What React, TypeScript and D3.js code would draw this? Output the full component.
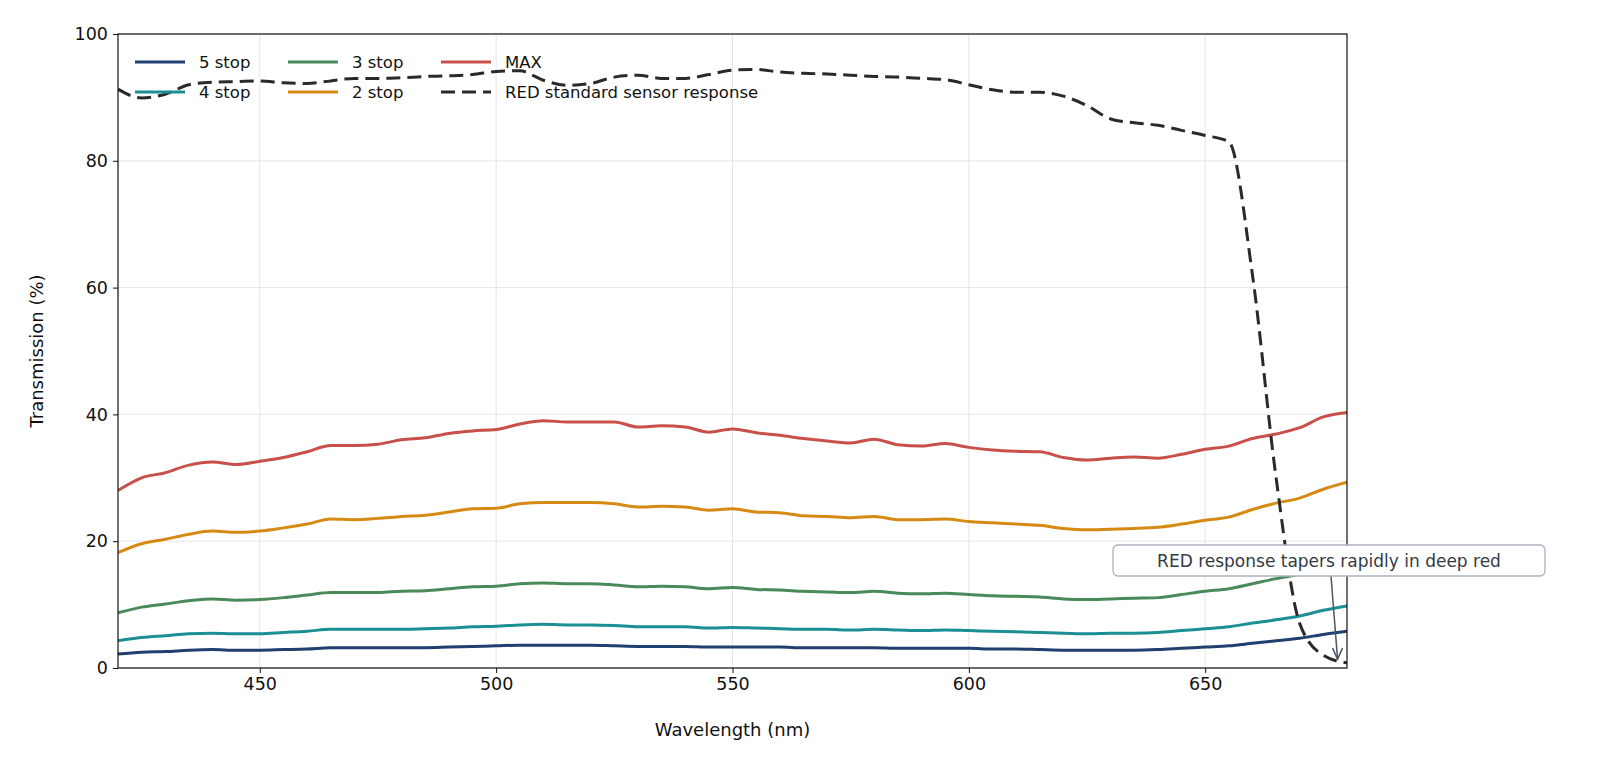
import * as d3 from "d3";
import { useEffect, useRef } from "react";

const wavelengths = d3.range(420, 681, 5);

const max = [28, 30, 30.8, 32, 32.5, 32.1, 32.6, 33.2, 34.1, 35.1, 35.1, 35.3, 36, 36.3, 37, 37.4, 37.6, 38.5, 39, 38.8, 38.8, 38.8, 38, 38.2, 38, 37.2, 37.7, 37.1, 36.7, 36.2, 35.8, 35.5, 36.1, 35.2, 35, 35.4, 34.8, 34.4, 34.2, 34.1, 33.2, 32.8, 33.1, 33.3, 33.1, 33.7, 34.5, 35, 36.2, 36.9, 37.9, 39.6, 40.3];
const stop2 = [18.2, 19.6, 20.3, 21.1, 21.6, 21.4, 21.6, 22.1, 22.7, 23.5, 23.4, 23.6, 23.9, 24.1, 24.6, 25.1, 25.2, 25.9, 26.1, 26.1, 26.1, 25.9, 25.4, 25.5, 25.4, 24.9, 25.1, 24.6, 24.5, 24, 23.9, 23.7, 23.9, 23.4, 23.4, 23.5, 23.1, 22.9, 22.7, 22.5, 22, 21.8, 21.9, 22, 22.2, 22.7, 23.3, 23.8, 25, 26, 26.8, 28.2, 29.3];
const stop3 = [8.7, 9.6, 10.1, 10.6, 10.9, 10.7, 10.8, 11.1, 11.5, 11.9, 11.9, 11.9, 12.1, 12.2, 12.5, 12.8, 12.9, 13.3, 13.4, 13.3, 13.3, 13.1, 12.8, 12.9, 12.8, 12.5, 12.7, 12.4, 12.3, 12.1, 12, 11.9, 12.1, 11.8, 11.7, 11.8, 11.6, 11.4, 11.3, 11.2, 10.9, 10.8, 10.9, 11, 11.1, 11.6, 12.1, 12.5, 13.3, 14.1, 14.8, 15.7, 16.3];
const stop4 = [4.3, 4.8, 5.1, 5.4, 5.5, 5.4, 5.4, 5.6, 5.8, 6.1, 6.1, 6.1, 6.1, 6.2, 6.3, 6.5, 6.6, 6.8, 6.9, 6.8, 6.8, 6.7, 6.5, 6.5, 6.5, 6.3, 6.4, 6.3, 6.2, 6.1, 6.1, 6, 6.1, 6, 5.9, 6, 5.9, 5.8, 5.7, 5.6, 5.5, 5.4, 5.5, 5.5, 5.6, 5.9, 6.2, 6.5, 7.1, 7.6, 8.2, 9.1, 9.8];
const stop5 = [2.2, 2.5, 2.6, 2.8, 2.9, 2.8, 2.8, 2.9, 3, 3.2, 3.2, 3.2, 3.2, 3.2, 3.3, 3.4, 3.5, 3.6, 3.6, 3.6, 3.6, 3.5, 3.4, 3.4, 3.4, 3.3, 3.3, 3.3, 3.3, 3.2, 3.2, 3.2, 3.2, 3.1, 3.1, 3.1, 3.1, 3, 3, 2.9, 2.8, 2.8, 2.8, 2.8, 2.9, 3.1, 3.3, 3.5, 3.9, 4.3, 4.7, 5.3, 5.8];
const redSensor = [91.3, 89.9, 90.5, 92, 92.4, 92.5, 92.6, 92.3, 92.2, 92.6, 93, 93, 93.1, 93.3, 93.4, 93.6, 94.1, 94.2, 92.7, 91.9, 92.2, 93.2, 93.5, 93, 93, 93.6, 94.3, 94.4, 94, 93.8, 93.7, 93.5, 93.3, 93.2, 93, 92.8, 92, 91.2, 90.8, 90.8, 90.2, 88.7, 86.6, 86, 85.6, 84.8, 84, 83, 62, 30, 7, 2, 0.8];

const series = [
  { name: "5 stop", values: stop5, color: "#1f3f6e", dash: "" },
  { name: "4 stop", values: stop4, color: "#1b8f94", dash: "" },
  { name: "3 stop", values: stop3, color: "#4a8a5a", dash: "" },
  { name: "2 stop", values: stop2, color: "#d68a14", dash: "" },
  { name: "MAX", values: max, color: "#c9504a", dash: "" },
  { name: "RED standard sensor response", values: redSensor, color: "#2a2a2a", dash: "14,7" },
];
const legendOrder = ["5 stop", "3 stop", "MAX", "4 stop", "2 stop", "RED standard sensor response"];
const xTicks = [450, 500, 550, 600, 650];
const yTicks = [0, 20, 40, 60, 80, 100];

const W = 1598, H = 781;
const m = { left: 118, right: 1347, top: 34, bottom: 668 };
const font = "DejaVu Sans, sans-serif";

export default function App() {
  const ref = useRef<SVGSVGElement | null>(null);

  useEffect(() => {
    if (!ref.current) return;
    const svg = d3.select(ref.current);
    svg.selectAll("*").remove();

    const x = d3.scaleLinear().domain([420, 680]).range([m.left, m.right]);
    const y = d3.scaleLinear().domain([0, 100]).range([m.bottom, m.top]);

    svg.append("rect").attr("width", W).attr("height", H).attr("fill", "white");

    const g = svg.append("g");
    g.selectAll(".gx").data(xTicks).join("line")
      .attr("x1", (d) => x(d)).attr("x2", (d) => x(d))
      .attr("y1", m.top).attr("y2", m.bottom)
      .attr("stroke", "#dde0e5").attr("stroke-width", 0.8);
    g.selectAll(".gy").data(yTicks).join("line")
      .attr("y1", (d) => y(d)).attr("y2", (d) => y(d))
      .attr("x1", m.left).attr("x2", m.right)
      .attr("stroke", "#dde0e5").attr("stroke-width", 0.8);

    const clip = svg.append("clipPath").attr("id", "plot");
    clip.append("rect").attr("x", m.left).attr("y", m.top)
      .attr("width", m.right - m.left).attr("height", m.bottom - m.top);

    const line = d3.line<number>()
      .x((_, i) => x(wavelengths[i]))
      .y((d) => y(d))
      .curve(d3.curveMonotoneX);

    const lines = svg.append("g").attr("clip-path", "url(#plot)");
    series.forEach((s) => {
      lines.append("path").datum(s.values)
        .attr("fill", "none").attr("stroke", s.color)
        .attr("stroke-width", 3)
        .attr("stroke-dasharray", s.dash || null)
        .attr("d", line);
    });

    const xAxis = svg.append("g").attr("transform", `translate(0,${m.bottom})`)
      .call(d3.axisBottom(x).tickValues(xTicks).tickSize(5).tickPadding(5));
    const yAxis = svg.append("g").attr("transform", `translate(${m.left},0)`)
      .call(d3.axisLeft(y).tickValues(yTicks).tickSize(5).tickPadding(5));
    [xAxis, yAxis].forEach((a) => {
      a.select(".domain").remove();
      a.selectAll("text").attr("font-family", font).attr("font-size", 17.5).attr("fill", "#111");
      a.selectAll("line").attr("stroke", "#111");
    });

    svg.append("rect").attr("x", m.left).attr("y", m.top)
      .attr("width", m.right - m.left).attr("height", m.bottom - m.top)
      .attr("fill", "none").attr("stroke", "#111").attr("stroke-width", 1.2);

    svg.append("text").attr("x", (m.left + m.right) / 2).attr("y", 736)
      .attr("text-anchor", "middle").attr("font-family", font).attr("font-size", 18)
      .attr("fill", "#111").text("Wavelength (nm)");
    svg.append("text").attr("transform", `translate(43,${(m.top + m.bottom) / 2}) rotate(-90)`)
      .attr("text-anchor", "middle").attr("font-family", font).attr("font-size", 18)
      .attr("fill", "#111").text("Transmission (%)");

    // legend
    const colX = [135, 288, 441];
    const rowY = [62, 92];
    legendOrder.forEach((name, i) => {
      const s = series.find((d) => d.name === name)!;
      const lx = colX[i % 3], ly = rowY[Math.floor(i / 3)];
      svg.append("line").attr("x1", lx).attr("x2", lx + 50).attr("y1", ly).attr("y2", ly)
        .attr("stroke", s.color).attr("stroke-width", 3)
        .attr("stroke-dasharray", s.dash || null);
      svg.append("text").attr("x", lx + 64).attr("y", ly + 6)
        .attr("font-family", font).attr("font-size", 16.5).attr("fill", "#111").text(name);
    });

    // annotation
    svg.append("line").attr("x1", 1331).attr("y1", 576).attr("x2", x(678)).attr("y2", y(1.4))
      .attr("stroke", "#4a5868").attr("stroke-width", 1.5);
    svg.append("path")
      .attr("d", `M${x(678) - 5},${y(1.4) - 11} L${x(678)},${y(1.4)} L${x(678) + 5},${y(1.4) - 11}`)
      .attr("fill", "none").attr("stroke", "#4a5868").attr("stroke-width", 1.5);
    svg.append("rect").attr("x", 1113).attr("y", 545).attr("width", 432).attr("height", 31)
      .attr("rx", 5).attr("fill", "white").attr("stroke", "#a9b3c0").attr("stroke-width", 1.3);
    svg.append("text").attr("x", 1329).attr("y", 567).attr("text-anchor", "middle")
      .attr("font-family", font).attr("font-size", 17).attr("fill", "#333a45")
      .text("RED response tapers rapidly in deep red");
  }, []);

  return (
    <svg ref={ref} width={W} height={H}
      style={{ position: "absolute", left: 0, top: 0, display: "block" }} />
  );
}
